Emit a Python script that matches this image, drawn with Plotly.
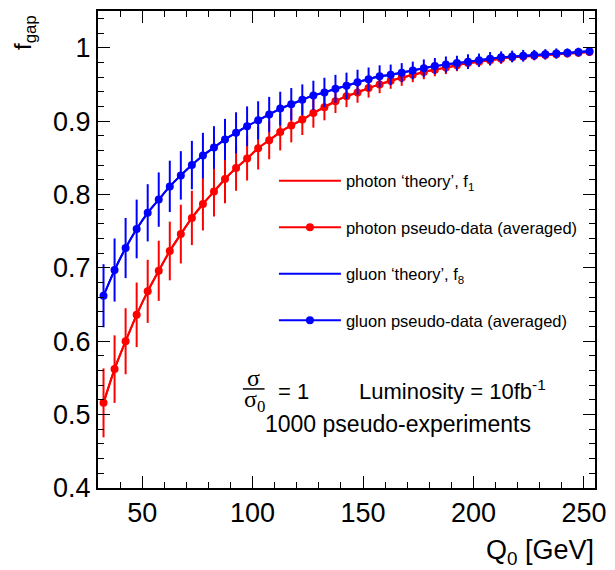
import plotly.graph_objects as go

# ---- data ----
q0 = [32.5, 37.5, 42.5, 47.5, 52.5, 57.5, 62.5, 67.5, 72.5, 77.5,
      82.5, 87.5, 92.5, 97.5, 102.5, 107.5, 112.5, 117.5, 122.5, 127.5,
      132.5, 137.5, 142.5, 147.5, 152.5, 157.5, 162.5, 167.5, 172.5, 177.5,
      182.5, 187.5, 192.5, 197.5, 202.5, 207.5, 212.5, 217.5, 222.5, 227.5,
      232.5, 237.5, 242.5, 247.5, 252.5]

photon_data = [0.516, 0.562, 0.600, 0.636, 0.668, 0.696, 0.723, 0.746, 0.768, 0.787,
               0.804, 0.821, 0.836, 0.849, 0.863, 0.874, 0.885, 0.894, 0.902, 0.911,
               0.919, 0.927, 0.934, 0.939, 0.945, 0.950, 0.955, 0.959, 0.963, 0.967,
               0.970, 0.973, 0.976, 0.979, 0.981, 0.983, 0.985, 0.987, 0.988, 0.989,
               0.990, 0.991, 0.992, 0.993, 0.994]
photon_err = [0.047, 0.046, 0.045, 0.044, 0.043, 0.041, 0.040, 0.040, 0.037, 0.036,
              0.034, 0.033, 0.031, 0.030, 0.029, 0.026, 0.025, 0.023, 0.021, 0.020,
              0.018, 0.016, 0.015, 0.014, 0.013, 0.012, 0.011, 0.011, 0.010, 0.010,
              0.009, 0.009, 0.008, 0.008, 0.007, 0.007, 0.007, 0.006, 0.006, 0.006,
              0.006, 0.005, 0.005, 0.005, 0.005]

gluon_data = [0.662, 0.697, 0.727, 0.753, 0.775, 0.793, 0.811, 0.826, 0.840, 0.853,
              0.864, 0.875, 0.884, 0.893, 0.901, 0.909, 0.917, 0.923, 0.929, 0.935,
              0.939, 0.944, 0.948, 0.953, 0.957, 0.961, 0.963, 0.966, 0.969, 0.972,
              0.975, 0.977, 0.979, 0.981, 0.983, 0.985, 0.987, 0.988, 0.989, 0.990,
              0.991, 0.992, 0.993, 0.994, 0.995]
gluon_err = [0.043, 0.043, 0.041, 0.040, 0.039, 0.037, 0.035, 0.033, 0.033, 0.031,
             0.029, 0.028, 0.028, 0.027, 0.026, 0.024, 0.023, 0.022, 0.021, 0.020,
             0.020, 0.019, 0.018, 0.017, 0.016, 0.015, 0.014, 0.013, 0.012, 0.012,
             0.011, 0.011, 0.010, 0.010, 0.009, 0.009, 0.008, 0.008, 0.008, 0.007,
             0.007, 0.007, 0.006, 0.006, 0.006]

# theory curves run through the averaged pseudo-data in the picture
photon_theory = photon_data
gluon_theory = gluon_data

RED = "#ff0000"
BLUE = "#0000ff"
FONT = "Liberation Sans"

fig = go.Figure()

fig.add_trace(go.Scatter(
    x=q0, y=photon_theory, mode="lines", name="photon ‘theory’, f<sub>1</sub>",
    line=dict(color=RED, width=2, shape="spline", smoothing=0.6),
    legendgroup="a"))
fig.add_trace(go.Scatter(
    x=q0, y=photon_data, mode="lines+markers", name="photon pseudo-data (averaged)",
    line=dict(color=RED, width=2, shape="spline", smoothing=0.6),
    marker=dict(color=RED, size=8),
    error_y=dict(type="data", array=photon_err, color=RED, thickness=2, width=0),
    legendgroup="b"))
fig.add_trace(go.Scatter(
    x=q0, y=gluon_theory, mode="lines", name="gluon ‘theory’, f<sub>8</sub>",
    line=dict(color=BLUE, width=2, shape="spline", smoothing=0.6),
    legendgroup="c"))
fig.add_trace(go.Scatter(
    x=q0, y=gluon_data, mode="lines+markers", name="gluon pseudo-data (averaged)",
    line=dict(color=BLUE, width=2, shape="spline", smoothing=0.6),
    marker=dict(color=BLUE, size=8),
    error_y=dict(type="data", array=gluon_err, color=BLUE, thickness=2, width=0),
    legendgroup="d"))

axis_common = dict(
    showline=True, linecolor="black", linewidth=2, mirror="ticks",
    ticks="inside", ticklen=12, tickwidth=1.2, tickcolor="black",
    showgrid=False, zeroline=False,
    tickfont=dict(family=FONT, size=27, color="black"),
)

fig.update_xaxes(range=[30, 255], tick0=0, dtick=50,
                 minor=dict(ticks="inside", dtick=10, ticklen=6, tickwidth=1.2,
                            tickcolor="black", showgrid=False),
                 **axis_common)
fig.update_yaxes(range=[0.4, 1.05], tick0=0, dtick=0.1,
                 minor=dict(ticks="inside", dtick=0.02, ticklen=6, tickwidth=1.2,
                            tickcolor="black", showgrid=False),
                 **axis_common)

ann_font = dict(family=FONT, size=22, color="black")
sig_font = dict(family="Liberation Serif", size=24, color="black")

annotations = [
    # axis titles
    dict(text="f<sub>gap</sub>", xref="paper", yref="paper", x=-0.148, y=0.955,
         textangle=-90, showarrow=False, font=dict(family=FONT, size=24, color="black"),
         xanchor="center", yanchor="middle"),
    dict(text="Q<sub>0</sub> [GeV]", xref="paper", yref="paper", x=1.003, y=-0.094,
         showarrow=False, font=dict(family=FONT, size=27, color="black"),
         xanchor="right", yanchor="top"),
    # sigma / sigma0 = 1
    dict(text="σ", x=100.3, y=0.550, showarrow=False, font=sig_font,
         xanchor="center", yanchor="middle"),
    dict(text="σ<sub>0</sub>", x=100.8, y=0.518, showarrow=False, font=sig_font,
         xanchor="center", yanchor="middle"),
    dict(text="= 1", x=110.5, y=0.532, showarrow=False, font=ann_font,
         xanchor="left", yanchor="middle"),
    dict(text="Luminosity = 10fb<sup>-1</sup>", x=147.4, y=0.533, showarrow=False,
         font=ann_font, xanchor="left", yanchor="middle"),
    dict(text="1000 pseudo-experiments", x=166.0, y=0.487, showarrow=False,
         font=dict(family=FONT, size=23, color="black"),
         xanchor="center", yanchor="middle"),
]
fig.update_layout(annotations=annotations)

fig.add_shape(type="line", xref="x", yref="y", x0=95.6, x1=105.4, y0=0.535, y1=0.535,
              line=dict(color="black", width=1.5))

fig.update_layout(
    width=615, height=570,
    margin=dict(l=98, r=13, t=9, b=82),
    paper_bgcolor="white", plot_bgcolor="white",
    showlegend=True,
    legend=dict(x=0.354, y=0.68, xanchor="left", yanchor="top",
                bgcolor="rgba(0,0,0,0)", borderwidth=0,
                font=dict(family=FONT, size=16.5, color="black"),
                traceorder="grouped", tracegroupgap=22, itemwidth=62),
)

fig.write_html("out.html", config={"displayModeBar": False},
               post_script="document.body.style.margin='0';document.body.style.padding='0';")
